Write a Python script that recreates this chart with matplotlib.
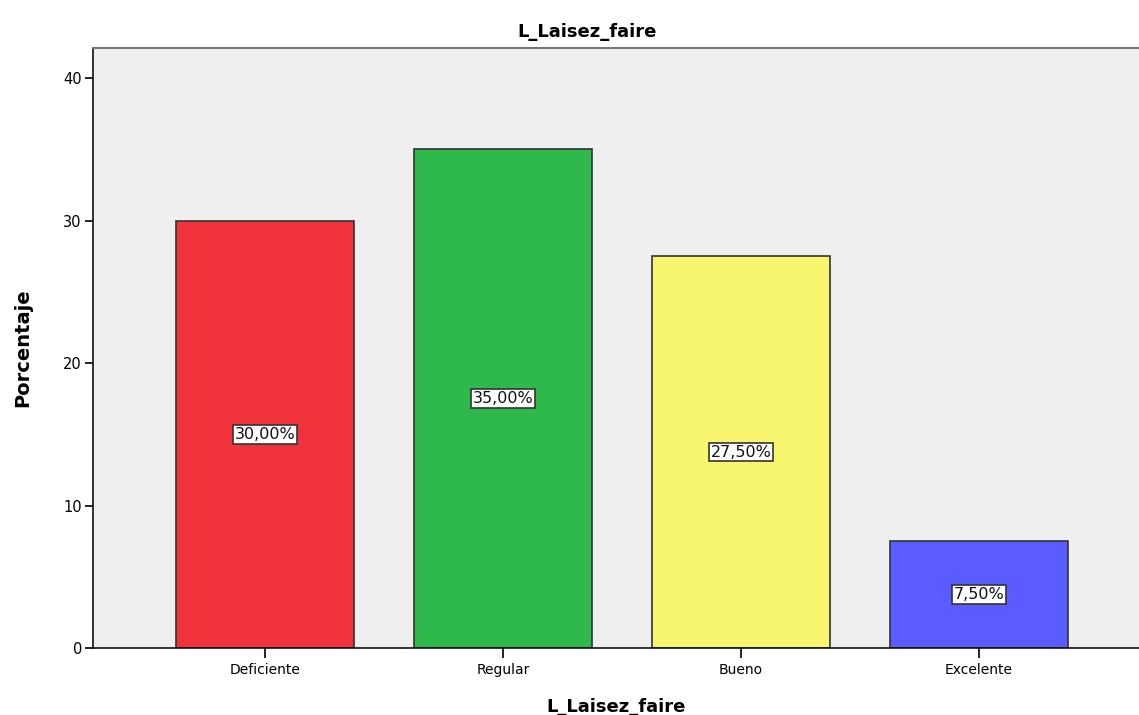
import matplotlib
matplotlib.use("Agg")
import matplotlib.pyplot as plt

categories = ["Deficiente", "Regular", "Bueno", "Excelente"]
values = [30.0, 35.0, 27.5, 7.5]
labels = ["30,00%", "35,00%", "27,50%", "7,50%"]
colors = ["#F0323A", "#2FB84B", "#F8F56F", "#5A5CFF"]
yticks = [0, 10, 20, 30, 40]

fig = plt.figure(figsize=(11.39, 7.15), dpi=100)
ax = fig.add_axes([93/1139, 67/715, 1 - 93/1139, (648-48)/715])
ax.set_facecolor("#EFEFEF")

x = list(range(len(categories)))
ax.bar(x, values, width=0.75, color=colors, edgecolor="#333333", linewidth=1.2, zorder=2)
for xi, v, lab in zip(x, values, labels):
    ax.text(xi, v / 2, lab, ha="center", va="center", fontsize=11.5, color="#111111",
            bbox=dict(boxstyle="square,pad=0.12", facecolor="white", edgecolor="#333333", linewidth=1.2),
            zorder=3)

ax.set_xlim(-0.7227, 3.672)
ax.set_ylim(0, (648-48)/14.25)
ax.set_yticks(yticks)
ax.set_xticks(x)
ax.set_xticklabels(categories, fontsize=10)
ax.tick_params(axis="y", labelsize=10.5, length=6, width=1.2, pad=2)
ax.tick_params(axis="x", length=7, width=1.2, pad=4)

for s in ["left", "bottom"]:
    ax.spines[s].set_color("#111111")
    ax.spines[s].set_linewidth(1.2)
ax.spines["top"].set_color("#777777")
ax.spines["top"].set_linewidth(1.5)
ax.spines["right"].set_visible(False)

ax.set_xlabel("L_Laisez_faire", fontsize=13, fontweight="bold", labelpad=15)
ax.set_ylabel("Porcentaje", fontsize=14, fontweight="bold", labelpad=22)
fig.text(587/1139, 1 - 32/715, "L_Laisez_faire", ha="center", va="center", fontsize=13, fontweight="bold")

fig.savefig("out.png", dpi=100, facecolor="white")
